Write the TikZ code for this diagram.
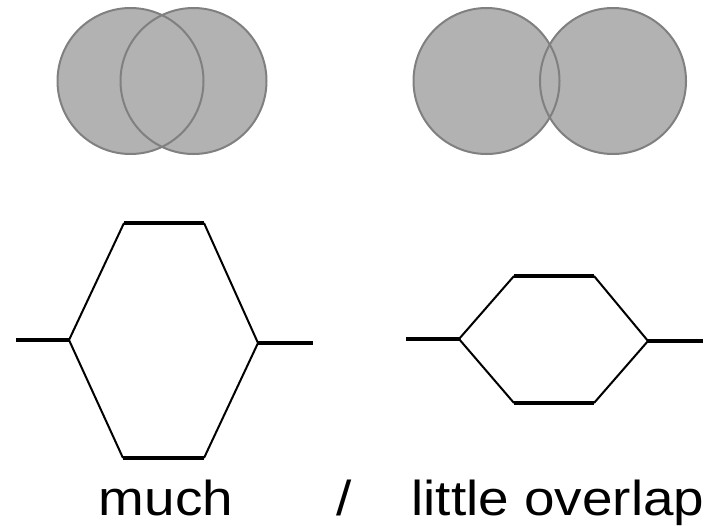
\documentclass[tikz,border=0pt]{standalone}
\usepackage{fontspec}
\setmainfont[FakeStretch=1.12]{Liberation Sans}
\definecolor{orbfill}{HTML}{B2B2B2}
\definecolor{orbline}{HTML}{808080}
\begin{document}
\begin{tikzpicture}[x=1pt,y=-1pt,
  level/.style={line width=4pt},
  link/.style={line width=2pt,line join=miter},
  orb/.style={fill=orbfill},
  orbrim/.style={draw=orbline,line width=2pt},
  lbl/.style={anchor=base,inner sep=0pt,font=\fontsize{49}{59}\selectfont}]
\useasboundingbox (0,0) rectangle (719,525);
% circles, much overlap
\fill[orb] (130.5,81) circle (73);
\fill[orb] (193.5,81) circle (73);
\draw[orbrim] (130.5,81) circle (73);
\draw[orbrim] (193.5,81) circle (73);
% circles, little overlap
\fill[orb] (486.5,81) circle (73);
\fill[orb] (613,81) circle (73);
\draw[orbrim] (486.5,81) circle (73);
\draw[orbrim] (613,81) circle (73);
% MO diagram, much overlap
\coordinate (aL1) at (16,340);  \coordinate (aL2) at (69,340);
\coordinate (aT1) at (124,223); \coordinate (aT2) at (204,223);
\coordinate (aB1) at (123,458); \coordinate (aB2) at (204,458);
\coordinate (aR1) at (258,343); \coordinate (aR2) at (313,343);
\draw[level] (aL1) -- (aL2);
\draw[level] (aT1) -- (aT2);
\draw[level] (aB1) -- (aB2);
\draw[level] (aR1) -- (aR2);
\draw[link] (aL2) -- (aT1);
\draw[link] (aL2) -- (aB1);
\draw[link] (aT2) -- (aR1);
\draw[link] (aB2) -- (aR1);
% MO diagram, little overlap
\coordinate (bL1) at (406,339); \coordinate (bL2) at (459,339);
\coordinate (bT1) at (514,276); \coordinate (bT2) at (594,276);
\coordinate (bB1) at (514,403); \coordinate (bB2) at (594,403);
\coordinate (bR1) at (648,341); \coordinate (bR2) at (703,341);
\draw[level] (bL1) -- (bL2);
\draw[level] (bT1) -- (bT2);
\draw[level] (bB1) -- (bB2);
\draw[level] (bR1) -- (bR2);
\draw[link] (bL2) -- (bT1);
\draw[link] (bL2) -- (bB1);
\draw[link] (bT2) -- (bR1);
\draw[link] (bB2) -- (bR1);
% labels
\node[lbl] (much) at (166,515) {much};
\node[lbl] (slash) at (344,515) {/};
\node[lbl] (little) at (558,515) {little overlap};
\end{tikzpicture}
\end{document}
